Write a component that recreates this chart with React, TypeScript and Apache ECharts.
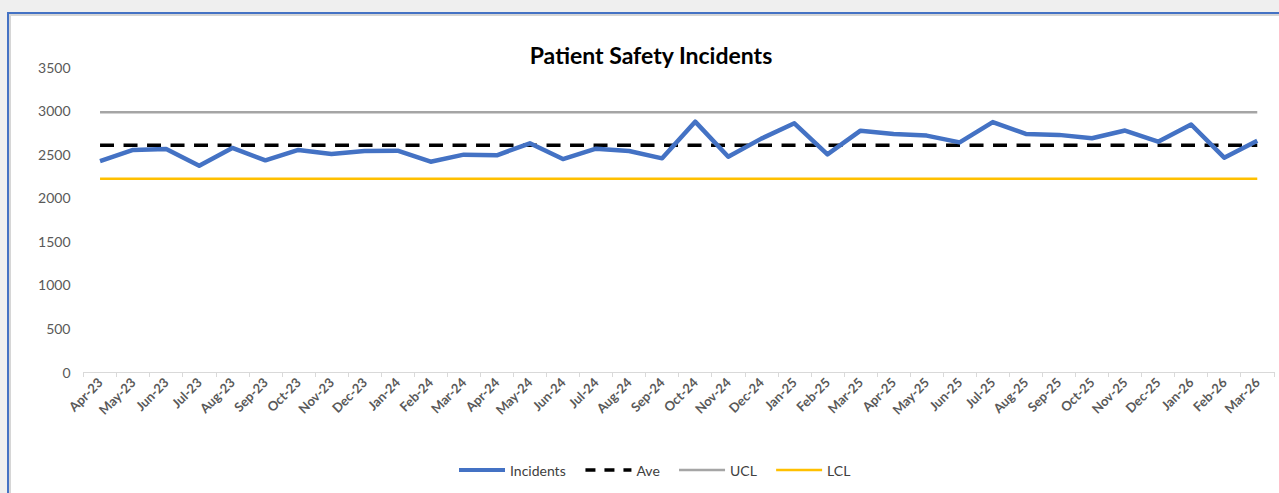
import React, { useEffect, useRef } from "react";
import * as echarts from "echarts";

const categories = [
  "Apr-23", "May-23", "Jun-23", "Jul-23", "Aug-23", "Sep-23", "Oct-23", "Nov-23", "Dec-23", "Jan-24", "Feb-24", "Mar-24",
  "Apr-24", "May-24", "Jun-24", "Jul-24", "Aug-24", "Sep-24", "Oct-24", "Nov-24", "Dec-24", "Jan-25", "Feb-25", "Mar-25",
  "Apr-25", "May-25", "Jun-25", "Jul-25", "Aug-25", "Sep-25", "Oct-25", "Nov-25", "Dec-25", "Jan-26", "Feb-26", "Mar-26",
];

const incidents = [
  2421, 2548, 2559, 2368, 2571, 2429, 2548, 2502, 2536, 2540, 2413, 2494,
  2487, 2624, 2444, 2563, 2536, 2452, 2873, 2471, 2678, 2854, 2498, 2769,
  2732, 2713, 2635, 2868, 2732, 2721, 2682, 2771, 2643, 2840, 2460, 2654,
];

const AVE = 2601;
const UCL = 2982;
const LCL = 2218;

const aveSeries = categories.map(() => AVE);
const uclSeries = categories.map(() => UCL);
const lclSeries = categories.map(() => LCL);

const yTicks = { min: 0, max: 3500, interval: 500 };

const FONT = "Lato, 'Noto Sans', sans-serif";

export default function App() {
  const ref = useRef<HTMLDivElement>(null);

  useEffect(() => {
    if (!ref.current) return;
    const chart = echarts.init(ref.current, undefined, { renderer: "svg" });
    chart.setOption({
      animation: false,
      backgroundColor: "transparent",
      textStyle: { fontFamily: FONT },
      title: {
        text: "Patient Safety Incidents",
        left: 646,
        textAlign: "center",
        top: 38,
        textStyle: { fontFamily: FONT, fontSize: 23, fontWeight: "bold", color: "#000" },
      },
      grid: { left: 83.5, right: 5.2, top: 67, bottom: 121, containLabel: false },
      legend: {
        data: [
          { name: "Incidents", lineStyle: { width: 4 } },
          { name: "Ave", lineStyle: { width: 3.5, type: [10, 9] } },
          { name: "UCL", lineStyle: { width: 2.5 } },
          { name: "LCL", lineStyle: { width: 2.5 } },
        ],
        left: 457,
        top: 463,
        padding: 0,
        itemWidth: 46,
        itemHeight: 14,
        itemGap: 18,
        itemStyle: { opacity: 0 },
        textStyle: { fontFamily: FONT, fontSize: 14, color: "#404040" },
      },
      xAxis: {
        type: "category",
        data: categories,
        boundaryGap: true,
        axisLine: { lineStyle: { color: "#d9d9d9", width: 1 } },
        axisTick: { show: true, length: 5, interval: 0, lineStyle: { color: "#d9d9d9" } },
        axisLabel: {
          interval: 0,
          rotate: 45,
          margin: 8,
          fontSize: 13,
          fontWeight: "bold",
          color: "#595959",
          fontFamily: FONT,
        },
        splitLine: { show: false },
      },
      yAxis: {
        type: "value",
        min: yTicks.min,
        max: yTicks.max,
        interval: yTicks.interval,
        axisLine: { show: false },
        axisTick: { show: false },
        splitLine: { show: false },
        axisLabel: {
          fontSize: 14,
          color: "#595959",
          margin: 13,
          fontFamily: FONT,
          formatter: (v: number) => String(v),
        },
      },
      series: [
        {
          name: "Incidents",
          type: "line",
          data: incidents,
          showSymbol: false,
          symbol: "none",
          color: "#4472C4",
          lineStyle: { color: "#4472C4", width: 4.5, join: "round" },
          z: 5,
        },
        {
          name: "Ave",
          type: "line",
          data: aveSeries,
          showSymbol: false,
          symbol: "none",
          color: "#000000",
          lineStyle: { color: "#000000", width: 3.5, type: [14, 9.5] },
          z: 4,
        },
        {
          name: "UCL",
          type: "line",
          data: uclSeries,
          showSymbol: false,
          symbol: "none",
          color: "#A5A5A5",
          lineStyle: { color: "#A5A5A5", width: 2.5 },
          z: 3,
        },
        {
          name: "LCL",
          type: "line",
          data: lclSeries,
          showSymbol: false,
          symbol: "none",
          color: "#FFC000",
          lineStyle: { color: "#FFC000", width: 2.5 },
          z: 3,
        },
      ],
    });
    return () => chart.dispose();
  }, []);

  return (
    <div
      style={{
        position: "fixed",
        left: 0,
        top: 0,
        width: 1279,
        height: 493,
        background: "#efefef",
        overflow: "hidden",
      }}
    >
      <div
        style={{
          position: "absolute",
          left: 7,
          top: 12,
          width: 1300,
          height: 520,
          background: "#ffffff",
          borderLeft: "2px solid #4472C4",
          borderTop: "2px solid #4472C4",
          boxShadow: "inset 2px 2px 0 #d6d6d6",
        }}
      />
      <div ref={ref} style={{ position: "absolute", left: 0, top: 0, width: 1279, height: 493 }} />
    </div>
  );
}
